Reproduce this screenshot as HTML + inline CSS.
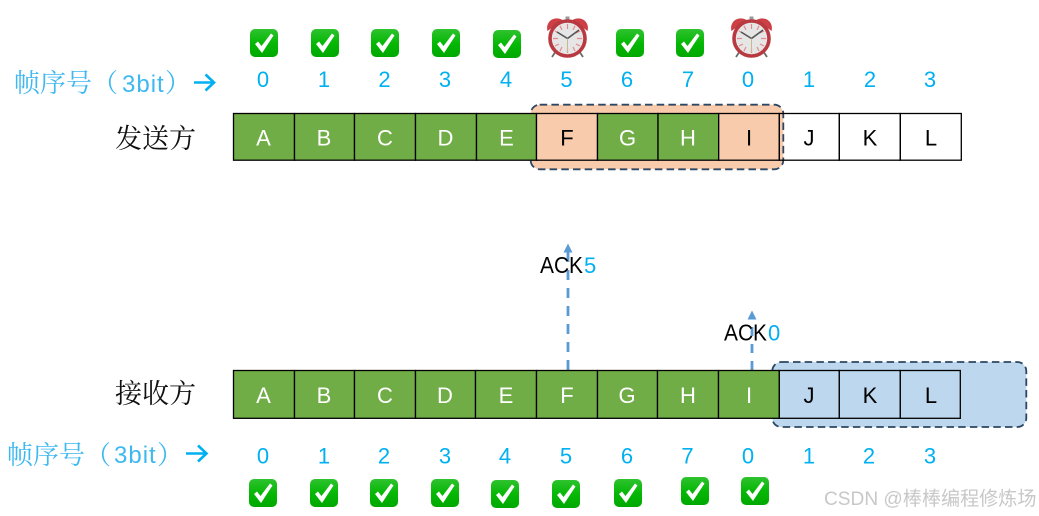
<!DOCTYPE html>
<html><head><meta charset="utf-8"><style>
html,body{margin:0;padding:0;background:#fff;width:1039px;height:516px;overflow:hidden}
svg{display:block}
text{font-family:"Liberation Sans","Noto Sans CJK SC",sans-serif}
.d{font-size:22px;fill:#00b0f0;text-anchor:middle}
.w{font-size:22px;fill:#fff;text-anchor:middle}
.k{font-size:22px;fill:#000;text-anchor:middle}
.cn{font-size:27px;fill:#111;font-family:"Noto Serif CJK SC","Noto Sans CJK SC",serif}
.lb{font-size:26px;fill:#3db8f0;font-family:"Noto Serif CJK SC","Noto Sans CJK SC",serif}
.c{fill:#70ad47;stroke:#000;stroke-width:1.3}
.o{fill:#f8cbad;stroke:#000;stroke-width:1.3}
.n{fill:none;stroke:#000;stroke-width:1.3}
.b{fill:#bdd7ee;stroke:#000;stroke-width:1.3}
</style></head><body>
<svg width="1039" height="516" viewBox="0 0 1039 516" xmlns="http://www.w3.org/2000/svg">
<defs>
<linearGradient id="g" x1="0" y1="0" x2="0" y2="1"><stop offset="0" stop-color="#2fc22f"/><stop offset="0.5" stop-color="#06b806"/><stop offset="1" stop-color="#00a800"/></linearGradient>
<g id="ck"><rect x="0" y="0" width="28" height="28" rx="5" fill="url(#g)"/><path d="M5 15 L8 12.5 L11.5 17 L21 4.5 L23.5 6.5 L12 24 Z" fill="#fff"/></g>
<g id="clk">
<path d="M0.5 15 C-2 6 7 -1 15.5 4 Z" fill="#cb3f45"/><path d="M40.5 15 C43 6 34 -1 25.5 4 Z" fill="#cb3f45"/>
<rect x="18.5" y="0.5" width="4" height="4" fill="#999"/>
<path d="M9 35 L5 41 M32 35 L36 41" stroke="#6b6b6b" stroke-width="1.8"/>
<circle cx="20.5" cy="22.5" r="17.5" fill="#e6e6e6" stroke="#b83a40" stroke-width="3.6"/>
<path d="M20.5 8v5M20.5 32v5M6 22.5h5M30 22.5h5M13 9.8l2 4M28 9.8l-2 4M8 15l4 2M33 15l-4 2M8 30l4-2M33 30l-4-2M13 35l2-4M28 35l-2-4" stroke="#e58a8a" stroke-width="1.2"/>
<path d="M20.5 22.5 L10 16 M20.5 22.5 L32 14" stroke="#555" stroke-width="1.6"/>
<path d="M20.5 22.5 V36" stroke="#c9b98f" stroke-width="1"/>
</g>
</defs>

<!-- icons top -->
<use href="#ck" x="250" y="29"/><use href="#ck" x="311" y="29"/><use href="#ck" x="371" y="29"/><use href="#ck" x="432" y="29"/><use href="#ck" x="493" y="30"/><use href="#ck" x="616" y="29"/><use href="#ck" x="676" y="29"/>
<use href="#clk" x="547" y="16"/><use href="#clk" x="731" y="16"/>

<!-- top digits -->
<text class="d" x="263" y="87">0</text><text class="d" x="324" y="87">1</text><text class="d" x="384.5" y="87">2</text><text class="d" x="445" y="87">3</text><text class="d" x="506" y="87">4</text><text class="d" x="566.5" y="87">5</text><text class="d" x="627" y="87">6</text><text class="d" x="688" y="87">7</text><text class="d" x="748" y="87">0</text><text class="d" x="809" y="87">1</text><text class="d" x="870" y="87">2</text><text class="d" x="930" y="87">3</text>

<text class="lb" x="14" y="92">帧序号</text><text class="lb" x="92" y="92">（</text><text x="122" y="92" font-size="24" fill="#3db8f0" letter-spacing="1">3bit</text><text class="lb" x="165" y="92">）</text>
<path d="M194 82.5H214M205.5 74.5L214 82.5L205.5 90.5" fill="none" stroke="#00b0f0" stroke-width="2.6"/>
<text class="cn" x="115" y="148">发送方</text>

<!-- sender window -->
<rect x="530.7" y="104.7" width="252.6" height="64.6" rx="9" fill="#f8cbad" stroke="#2c4763" stroke-width="1.8" stroke-dasharray="7.5 4.2"/>

<!-- sender cells -->
<rect class="c" x="233.5" y="113.5" width="61" height="46.7"/><rect class="c" x="294.5" y="113.5" width="60" height="46.7"/><rect class="c" x="354.5" y="113.5" width="61" height="46.7"/><rect class="c" x="415.5" y="113.5" width="61" height="46.7"/><rect class="c" x="476.5" y="113.5" width="60" height="46.7"/>
<rect class="o" x="536.5" y="113.5" width="61" height="46.7"/><rect class="c" x="597.5" y="113.5" width="60.5" height="46.7"/><rect class="c" x="658" y="113.5" width="60.7" height="46.7"/><rect class="o" x="718.7" y="113.5" width="60.6" height="46.7"/>
<rect class="n" x="779.3" y="113.5" width="60" height="46.7"/><rect class="n" x="839.3" y="113.5" width="61" height="46.7"/><rect class="n" x="900.3" y="113.5" width="61" height="46.7"/>
<text class="w" x="263.5" y="145.7">A</text><text class="w" x="324" y="145.7">B</text><text class="w" x="385" y="145.7">C</text><text class="w" x="445.5" y="145.7">D</text><text class="w" x="506.5" y="145.7">E</text><text class="k" x="567" y="145.7">F</text><text class="w" x="627.5" y="145.7">G</text><text class="w" x="688" y="145.7">H</text><text class="k" x="749" y="145.7">I</text><text class="k" x="809" y="145.7">J</text><text class="k" x="870" y="145.7">K</text><text class="k" x="931" y="145.7">L</text>

<!-- ack arrows -->
<path d="M568 370V252" stroke="#5b9bd5" stroke-width="2.8" stroke-dasharray="10 8" fill="none"/><path d="M568 243.5L572.5 252.5H563.5Z" fill="#5b9bd5"/>
<path d="M752 370V319" stroke="#5b9bd5" stroke-width="2.8" stroke-dasharray="9 8" fill="none"/><path d="M752 310.5L756.5 319.5H747.5Z" fill="#5b9bd5"/>
<text x="540" y="273" font-size="23" fill="#000" textLength="43" lengthAdjust="spacingAndGlyphs">ACK</text><text x="584" y="273" font-size="22" fill="#00b0f0">5</text>
<text x="724" y="340.5" font-size="23" fill="#000" textLength="43" lengthAdjust="spacingAndGlyphs">ACK</text><text x="768" y="340.5" font-size="22" fill="#00b0f0">0</text>

<!-- receiver window -->
<rect x="772.3" y="362" width="254" height="65" rx="9" fill="#bdd7ee" stroke="#2c4763" stroke-width="1.8" stroke-dasharray="7.5 4.2"/>

<!-- receiver cells -->
<rect class="c" x="233.5" y="370.5" width="61" height="47.8"/><rect class="c" x="294.5" y="370.5" width="60" height="47.8"/><rect class="c" x="354.5" y="370.5" width="61" height="47.8"/><rect class="c" x="415.5" y="370.5" width="60" height="47.8"/><rect class="c" x="475.5" y="370.5" width="61" height="47.8"/><rect class="c" x="536.5" y="370.5" width="61" height="47.8"/><rect class="c" x="597.5" y="370.5" width="60" height="47.8"/><rect class="c" x="657.5" y="370.5" width="61" height="47.8"/><rect class="c" x="718.5" y="370.5" width="60.8" height="47.8"/>
<rect class="b" x="779.3" y="370.5" width="60" height="47.8"/><rect class="b" x="839.3" y="370.5" width="61" height="47.8"/><rect class="b" x="900.3" y="370.5" width="60" height="47.8"/>
<text class="w" x="263.5" y="403">A</text><text class="w" x="324" y="403">B</text><text class="w" x="385" y="403">C</text><text class="w" x="445" y="403">D</text><text class="w" x="506" y="403">E</text><text class="w" x="567" y="403">F</text><text class="w" x="627" y="403">G</text><text class="w" x="688" y="403">H</text><text class="w" x="749" y="403">I</text><text class="k" x="809" y="403">J</text><text class="k" x="870" y="403">K</text><text class="k" x="931" y="403">L</text>

<text class="cn" x="115" y="403">接收方</text>
<text class="lb" x="7" y="464">帧序号</text><text class="lb" x="85" y="464">（</text><text x="114" y="463" font-size="24" fill="#3db8f0" letter-spacing="1">3bit</text><text class="lb" x="157" y="464">）</text>
<path d="M186 453.5H206.5M198 445.5L206.5 453.5L198 461.5" fill="none" stroke="#00b0f0" stroke-width="2.6"/>

<!-- bottom digits -->
<text class="d" x="263" y="463.5">0</text><text class="d" x="324" y="463.5">1</text><text class="d" x="384" y="463.5">2</text><text class="d" x="445" y="463.5">3</text><text class="d" x="505" y="463.5">4</text><text class="d" x="566" y="463.5">5</text><text class="d" x="627" y="463.5">6</text><text class="d" x="687.5" y="463.5">7</text><text class="d" x="748" y="463.5">0</text><text class="d" x="809" y="463.5">1</text><text class="d" x="869" y="463.5">2</text><text class="d" x="930" y="463.5">3</text>

<use href="#ck" x="249" y="479"/><use href="#ck" x="310" y="479"/><use href="#ck" x="370" y="479"/><use href="#ck" x="431" y="479"/><use href="#ck" x="491" y="480"/><use href="#ck" x="552" y="480"/><use href="#ck" x="614" y="479"/><use href="#ck" x="681" y="477"/><use href="#ck" x="741" y="477"/>

<text x="824" y="505" font-size="19.1" fill="#c8c8c8">CSDN @棒棒编程修炼场</text>
</svg>
</body></html>
